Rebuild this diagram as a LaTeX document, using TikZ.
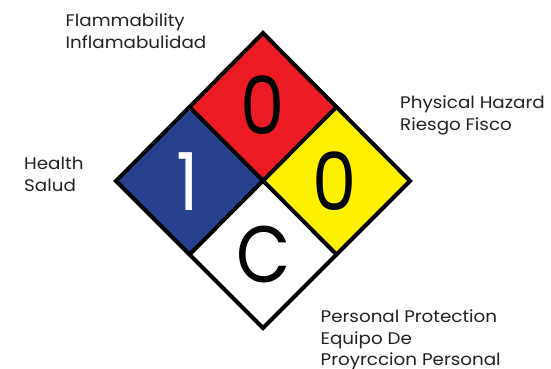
\documentclass[tikz,border=0pt]{standalone}
\usepackage{fontspec}
\usetikzlibrary{calc}
\setmainfont{Poppins}
\newfontfamily\labelfont{Poppins}[FakeStretch=1.09]
\newfontfamily\digitfont{Poppins}[FakeStretch=0.88]
\definecolor{nfred}{HTML}{ED1C24}
\definecolor{nfblue}{HTML}{27418E}
\definecolor{nfyellow}{HTML}{FFF200}
\definecolor{labelgray}{HTML}{222222}
\begin{document}
\begin{tikzpicture}[x=1pt,y=-1pt,
  lbl/.style={anchor=base west,inner sep=0pt,text=labelgray,font=\labelfont\fontsize{16.8}{20}\selectfont},
  digit/.style={inner sep=0pt,font=\digitfont\fontsize{80}{80}\selectfont},
  edge/.style={line width=4pt,line join=miter}]
\useasboundingbox (0,0) rectangle (551,368);
% vertices
\coordinate (T) at (263,33);
\coordinate (L) at (116,181);
\coordinate (R) at (410,181);
\coordinate (B) at (263,328);
\coordinate (C) at (263,180.5);
\coordinate (TL) at ($(T)!0.5!(L)$);
\coordinate (TR) at ($(T)!0.5!(R)$);
\coordinate (BL) at ($(B)!0.5!(L)$);
\coordinate (BR) at ($(B)!0.5!(R)$);
\fill[nfred] (T) -- (TR) -- (C) -- (TL) -- cycle;
\fill[nfblue] (L) -- (TL) -- (C) -- (BL) -- cycle;
\fill[nfyellow] (R) -- (TR) -- (C) -- (BR) -- cycle;
\fill[white] (B) -- (BL) -- (C) -- (BR) -- cycle;
\draw[edge] (TL) -- (BR);
\draw[edge] (TR) -- (BL);
\draw[edge] (T) -- (R) -- (B) -- (L) -- cycle;
% digits
\node[digit] (flam) at (262.5,105.5) {0};
\node[digit,text=white] (health) at (188,181.5) {1};
\node[digit] (phys) at (335,181.5) {0};
\node[digit] (ppe) at (264,254) {C};
% labels
\node[lbl] (f1) at (65.5,26.5) {Flammability};
\node[lbl] (f2) at (65.5,48.3) {Inflamabulidad};
\node[lbl] (p1) at (400,108) {Physical Hazard};
\node[lbl] (p2) at (400,130) {Riesgo Fisco};
\node[lbl] (h1) at (24,169) {Health};
\node[lbl] (h2) at (24,191) {Salud};
\node[lbl] (e1) at (320.5,322) {Personal Protection};
\node[lbl] (e2) at (320.5,344) {Equipo De};
\node[lbl] (e3) at (320.5,365) {Proyrccion Personal};
\end{tikzpicture}
\end{document}
